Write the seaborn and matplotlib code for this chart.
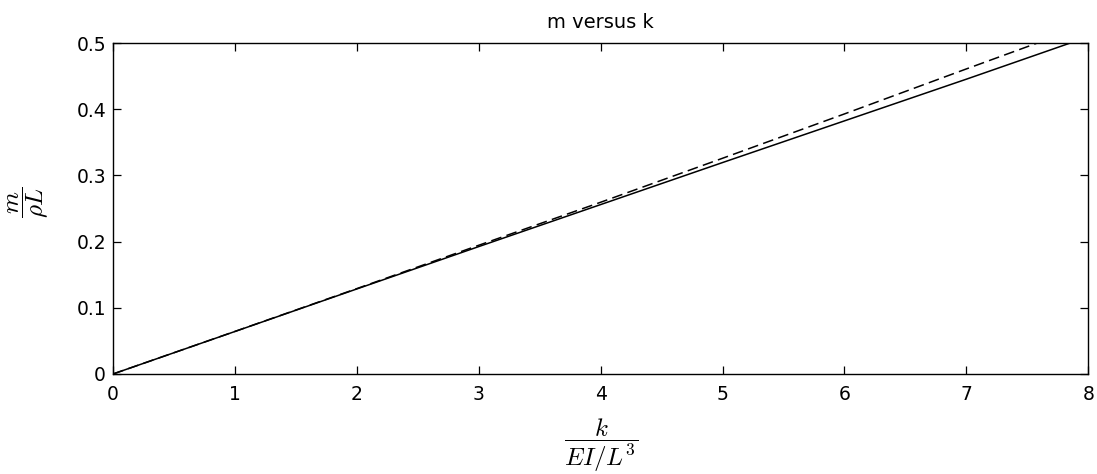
import matplotlib
matplotlib.use("Agg")
import matplotlib.pyplot as plt
import seaborn as sns
import pandas as pd

# Data
k_solid = [0, 1, 2, 3, 4, 5, 6, 7, 7.85]
m_solid = [0, 0.0642, 0.1285, 0.1925, 0.2560, 0.3195, 0.3825, 0.4455, 0.5]
k_dashed = [0, 1, 2, 3, 4, 5, 6, 7, 7.58]
m_dashed = [0, 0.0643, 0.1290, 0.1945, 0.2595, 0.3260, 0.3930, 0.4610, 0.5]

sns.set_style("ticks")
plt.rcParams['font.family'] = ['DejaVu Sans']
plt.rcParams['mathtext.fontset'] = 'cm'
plt.rcParams['text.color'] = 'black'
plt.rcParams['axes.labelcolor'] = 'black'

fig = plt.figure(figsize=(10.97, 4.74), dpi=100)
ax = fig.add_axes([0.103, 0.211, 0.889, 0.698])

df_s = pd.DataFrame({"k": k_solid, "m": m_solid})
df_d = pd.DataFrame({"k": k_dashed, "m": m_dashed})
sns.lineplot(data=df_s, x="k", y="m", ax=ax, color="black", linewidth=1.1)
sns.lineplot(data=df_d, x="k", y="m", ax=ax, color="black", linewidth=1.1,
             linestyle=(0, (7, 3.5)))

ax.set_xlim(0, 8)
ax.set_ylim(0, 0.5)
ax.set_xticks(range(0, 9))
ax.set_yticks([0, 0.1, 0.2, 0.3, 0.4, 0.5])
ax.set_yticklabels(["0", "0.1", "0.2", "0.3", "0.4", "0.5"])
ax.tick_params(direction="in", top=True, right=True, length=6, width=0.9,
               labelsize=13.5, colors="black")
ax.tick_params(axis="x", pad=8)
ax.tick_params(axis="y", pad=5)
for s in ax.spines.values():
    s.set_linewidth(1.0)
    s.set_color("black")

ax.set_title("m versus k", fontsize=14, pad=11, color="black")
ax.set_xlabel(r"$\dfrac{k}{EI/L^3}$", fontsize=18, labelpad=9)
ax.set_ylabel(r"$\dfrac{m}{\rho L}$", fontsize=18)
ax.yaxis.set_label_coords(-0.064, 0.52)

fig.savefig("out.png", dpi=100, facecolor="white")
